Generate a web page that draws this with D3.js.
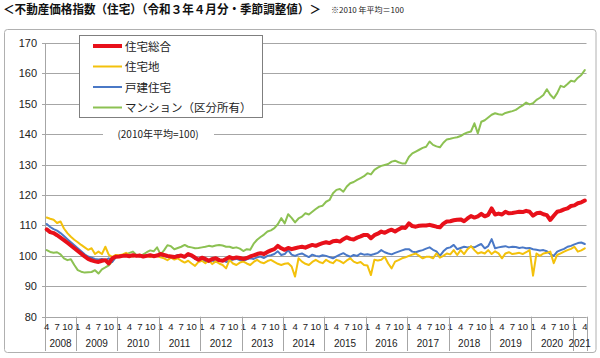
<!DOCTYPE html>
<html><head><meta charset="utf-8">
<script src="https://cdn.jsdelivr.net/npm/d3@7"></script>
<style>
html,body{margin:0;padding:0;background:#fff;}
svg{display:block;font-family:"Liberation Sans",Arial,"Noto Sans CJK JP",sans-serif;}
</style></head>
<body>
<svg id="c" width="600" height="358"></svg>
<script>
// ---- Data (monthly, Apr 2008 – Apr 2021, seasonally adjusted, 2010 avg = 100) ----
const startYear = 2008, startMonth = 4, endYear = 2021, endMonth = 4;
const yearLabels = ["2008","2009","2010","2011","2012","2013","2014","2015","2016","2017","2018","2019","2020","2021"];
const monthTickLabels = [1, 4, 7, 10];
const yTicks = [80, 90, 100, 110, 120, 130, 140, 150, 160, 170];
const seriesNames = ["住宅総合", "住宅地", "戸建住宅", "マンション（区分所有）"];

const totalHousing = [
  108.7,107.8,107.5,106.8,106.0,105.2,104.3,103.4,102.5,
  101.6,100.7,99.8,99.0,98.5,98.2,98.0,98.4,98.6,97.5,99.2,99.7,
  99.8,100.0,100.1,99.9,100.2,100.0,100.1,99.8,100.0,100.2,99.9,100.1,
  100.6,100.3,100.0,99.8,99.6,99.9,100.1,99.7,100.6,100.2,99.4,98.7,
  99.4,99.0,98.4,99.0,99.2,98.6,98.4,99.0,99.6,99.2,99.5,99.3,
  99.0,99.3,99.8,100.2,100.6,100.9,100.6,101.3,101.8,102.2,103.3,102.5,
  102.0,102.6,102.2,102.5,102.8,103.0,102.7,103.2,103.6,103.3,103.8,104.2,
  104.5,104.2,104.8,105.0,104.7,105.5,106.1,105.6,105.4,106.0,106.4,106.9,
  106.9,105.8,106.8,107.3,108.0,107.6,108.2,108.6,108.0,108.7,109.3,109.2,
  110.7,109.8,109.6,109.9,110.0,110.0,110.2,109.9,109.6,109.4,110.6,111.3,
  111.4,111.7,111.9,112.0,111.4,112.3,113.1,112.6,113.0,113.8,113.0,113.5,
  115.6,113.6,113.9,113.6,114.5,114.0,114.1,114.3,114.5,114.4,114.8,114.5,
  113.2,114.0,114.2,113.7,113.4,111.8,113.2,114.5,114.8,115.3,115.6,116.4,
  116.6,117.3,117.6,118.2
];
const residentialLand = [
  112.6,112.2,111.9,110.8,111.3,109.0,107.5,106.3,105.3,
  104.5,103.6,102.8,102.0,102.5,100.6,101.4,100.6,103.0,100.3,99.7,100.3,
  100.2,100.5,101.0,100.2,99.8,100.1,100.4,99.7,100.0,99.6,100.3,100.0,
  99.5,99.2,98.6,99.4,98.8,99.2,98.4,97.8,98.4,97.5,96.7,98.0,
  98.4,97.6,98.6,97.3,98.2,97.5,97.0,95.9,98.7,97.5,97.0,97.8,
  98.1,97.5,97.0,98.0,98.7,97.9,97.6,98.3,98.7,98.0,97.4,97.0,
  97.4,97.6,96.5,93.2,99.2,98.1,97.4,97.0,98.0,98.7,98.0,97.6,
  98.7,98.0,97.6,98.7,98.3,97.6,98.5,99.2,98.1,97.6,98.0,97.0,
  96.8,93.7,98.7,98.5,98.7,99.7,97.5,95.9,98.1,98.6,99.2,99.5,
  100.0,100.4,100.8,100.0,99.2,99.7,99.7,99.2,100.8,99.4,100.0,100.8,
  100.5,101.9,100.3,101.9,100.6,102.2,103.2,101.9,100.8,101.2,100.8,101.9,
  100.6,101.5,100.8,99.2,100.8,101.2,100.6,100.8,101.0,100.6,101.2,101.9,
  93.5,100.8,100.0,100.8,101.0,101.4,97.6,100.3,100.8,101.4,101.9,102.3,
  103.0,101.4,101.8,102.5
];
const detachedHouses = [
  110.5,109.5,108.8,108.3,107.5,106.5,105.5,104.5,103.5,
  102.5,101.5,100.5,99.8,99.4,99.0,98.8,99.0,98.6,99.2,98.0,99.6,
  99.8,99.9,100.0,100.1,99.9,100.2,100.0,99.9,100.1,100.0,99.8,100.2,
  100.3,100.0,99.6,99.4,99.8,100.3,100.0,99.6,100.2,99.8,99.0,98.6,
  98.8,98.2,98.0,98.5,98.1,98.3,98.6,98.0,98.4,98.8,99.0,98.6,
  98.4,98.9,99.2,99.0,99.5,99.8,99.3,100.0,100.2,100.6,101.5,100.3,
  100.6,101.9,100.4,100.0,100.5,100.8,100.2,99.6,100.4,100.0,99.8,100.2,
  100.0,99.6,99.2,99.8,100.4,100.9,100.2,99.7,100.3,100.0,100.8,100.4,
  100.5,100.3,100.6,101.0,101.9,101.2,100.8,100.5,101.0,101.4,101.8,102.2,
  102.2,101.4,101.2,101.6,101.9,102.4,102.8,102.0,101.5,100.0,101.5,102.5,
  102.8,103.6,102.2,102.6,103.0,102.8,103.0,102.8,103.4,103.9,102.5,103.2,
  105.5,102.5,102.8,103.0,103.2,102.8,103.0,102.9,102.6,102.8,102.5,102.6,
  102.2,102.0,101.8,101.9,101.5,100.6,100.0,101.4,101.9,102.3,103.0,103.3,
  103.8,104.2,104.4,103.9
];
const condominiums = [
  101.9,101.3,101.0,101.2,100.5,99.2,98.6,98.9,97.0,
  95.3,94.8,94.5,94.6,94.7,95.3,94.2,95.6,96.2,96.9,98.2,99.5,
  99.8,100.2,100.5,101.0,101.4,100.3,99.8,100.5,101.2,101.8,101.5,102.8,
  100.5,101.8,103.5,103.2,102.2,102.6,103.0,103.6,103.0,102.8,102.5,102.6,
  102.8,103.0,103.3,103.1,103.4,103.6,103.4,103.0,103.0,102.6,102.8,102.4,
  101.6,102.2,102.0,104.0,105.3,106.2,107.0,108.0,108.4,109.1,110.4,112.4,
  110.7,113.7,112.5,111.0,112.3,112.9,114.0,113.6,114.5,115.4,116.2,116.5,
  117.8,118.4,120.6,121.7,122.0,121.1,122.8,123.9,124.3,125.0,125.6,126.2,
  127.2,126.8,128.3,129.0,129.6,129.9,130.2,131.0,131.3,130.8,130.4,130.4,
  132.5,133.7,134.3,134.9,135.5,135.9,137.6,136.5,136.0,135.7,137.2,138.3,
  138.5,138.8,139.0,139.4,140.1,140.6,140.9,143.6,140.3,144.1,144.6,145.5,
  146.4,146.9,146.6,146.4,147.0,147.3,147.6,148.0,148.8,149.5,150.4,149.8,
  150.2,151.3,152.0,152.9,154.8,153.0,151.8,153.5,155.9,155.5,156.5,157.6,
  157.3,158.6,159.5,161.1
];
const seriesColors = ["#e8101a", "#f3c10c", "#4a78c6", "#8cc152"];
const seriesWidths = [4, 2, 2, 2];

// ---- Categories (year, month) ----
const categories = [];
for (let y = startYear, m = startMonth; y < endYear || (y === endYear && m <= endMonth); ) {
  categories.push({year: y, month: m});
  m++; if (m > 12) { m = 1; y++; }
}

const svg = d3.select("#c");
const plotL = 45, plotR = 586.5, plotT = 43, plotB = 316.7;

// outer frame
svg.append("rect").attr("x", 4.5).attr("y", 29.5).attr("width", 591.5).attr("height", 323)
  .attr("rx", 3).attr("fill", "#fff").attr("stroke", "#b0b0b0").attr("stroke-width", 1);

// title
svg.append("text").attr("x", 3).attr("y", 14)
  .attr("font-family", "'Noto Sans CJK JP',sans-serif").attr("font-weight", "bold")
  .attr("font-size", 12).attr("fill", "#111")
  .attr("textLength", 318).attr("lengthAdjust", "spacingAndGlyphs")
  .text("＜不動産価格指数（住宅）（令和３年４月分・季節調整値）＞");
svg.append("text").attr("x", 331).attr("y", 13)
  .attr("font-family", "'Noto Sans CJK JP',sans-serif")
  .attr("font-size", 8).attr("fill", "#222")
  .text("※2010 年平均＝100");

const x = d3.scaleBand().domain(d3.range(categories.length)).range([plotL, plotR]).paddingInner(0).paddingOuter(0);
const xc = i => x(i) + x.bandwidth() / 2;
const y = d3.scaleLinear().domain([80, 170]).range([plotB, plotT]);

// gridlines
svg.append("g").selectAll("line").data(yTicks).join("line")
  .attr("x1", plotL - 3).attr("x2", plotR)
  .attr("y1", d => Math.round(y(d)) + 0.5).attr("y2", d => Math.round(y(d)) + 0.5)
  .attr("stroke", "#a6a6a6").attr("stroke-width", 1);

// y axis labels
svg.append("g").selectAll("text").data(yTicks).join("text")
  .attr("x", 37).attr("y", d => y(d) + 4)
  .attr("text-anchor", "end").attr("font-size", 11).attr("fill", "#222")
  .text(d => d);

// y axis line
svg.append("line").attr("x1", plotL + 0.5).attr("x2", plotL + 0.5).attr("y1", plotT).attr("y2", 351)
  .attr("stroke", "#a6a6a6");

// x axis: month labels
const monthTicks = categories.map((c, i) => ({c, i})).filter(d => monthTickLabels.includes(d.c.month));
svg.append("g").selectAll("text").data(monthTicks).join("text")
  .attr("x", d => xc(d.i)).attr("y", 330)
  .attr("text-anchor", "middle").attr("font-size", 9.5).attr("fill", "#222")
  .text(d => d.c.month);

// year separators and labels
const yearSpans = yearLabels.map(yl => {
  const idx = categories.map((c, i) => c.year === +yl ? i : -1).filter(i => i >= 0);
  return {label: yl, first: idx[0], last: idx[idx.length - 1]};
});
svg.append("g").selectAll("line").data(yearSpans).join("line")
  .attr("x1", d => Math.round(x(d.last) + x.bandwidth()) + 0.5)
  .attr("x2", d => Math.round(x(d.last) + x.bandwidth()) + 0.5)
  .attr("y1", plotB).attr("y2", 351)
  .attr("stroke", "#a6a6a6");
svg.append("g").selectAll("text").data(yearSpans).join("text")
  .attr("x", d => (x(d.first) + x(d.last) + x.bandwidth()) / 2)
  .attr("y", 347).attr("text-anchor", "middle").attr("font-size", 10).attr("fill", "#222")
  .text(d => d.label);

// x axis baseline
svg.append("line").attr("x1", plotL).attr("x2", plotR).attr("y1", Math.round(plotB) + 0.5).attr("y2", Math.round(plotB) + 0.5)
  .attr("stroke", "#a6a6a6");

// lines
const allSeries = [totalHousing, residentialLand, detachedHouses, condominiums];
const line = d3.line().x((d, i) => xc(i)).y(d => y(d)).curve(d3.curveLinear);
const drawOrder = [3, 2, 1, 0];
drawOrder.forEach(k => {
  svg.append("path").datum(allSeries[k]).attr("d", line)
    .attr("fill", "none").attr("stroke", seriesColors[k]).attr("stroke-width", seriesWidths[k])
    .attr("stroke-linejoin", "round").attr("stroke-linecap", "round");
});

// note on 140 gridline
svg.append("rect").attr("x", 103).attr("y", 127).attr("width", 111).attr("height", 13).attr("fill", "#fff");
svg.append("text").attr("x", 158).attr("y", 137.5).attr("text-anchor", "middle")
  .attr("font-family", "'Noto Sans CJK JP',sans-serif")
  .attr("font-size", 10).attr("fill", "#222").text("(2010年平均=100)");

// legend
const lg = svg.append("g");
lg.append("rect").attr("x", 79.5).attr("y", 35.5).attr("width", 183).attr("height", 82)
  .attr("fill", "#fff").attr("stroke", "#7f7f7f");
const legRows = [46, 66.5, 87, 107.5];
seriesNames.forEach((n, k) => {
  lg.append("line").attr("x1", 93).attr("x2", 122).attr("y1", legRows[k]).attr("y2", legRows[k])
    .attr("stroke", seriesColors[k]).attr("stroke-width", seriesWidths[k]);
  lg.append("text").attr("x", 125).attr("y", legRows[k] + 4.5)
    .attr("font-family", "'Noto Sans CJK JP',sans-serif")
    .attr("font-size", 11.5).attr("fill", "#222").text(n);
});
</script>
</body></html>
